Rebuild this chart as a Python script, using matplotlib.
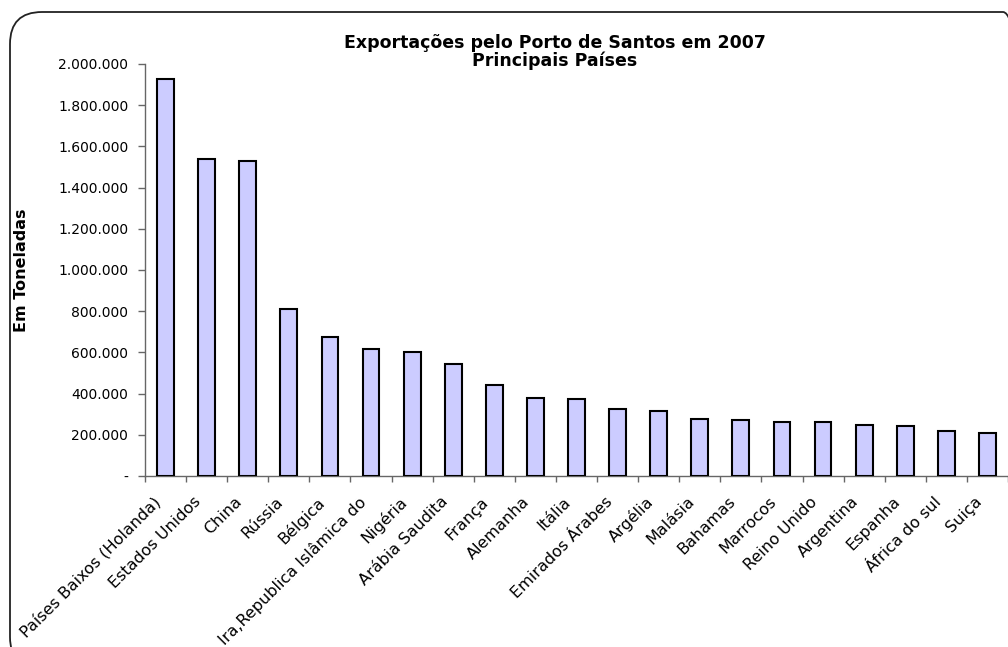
import matplotlib
matplotlib.use("Agg")
import matplotlib.pyplot as plt
from matplotlib.patches import FancyBboxPatch
from matplotlib.ticker import FuncFormatter, MultipleLocator, FixedLocator
import matplotlib.transforms as mtrans
import numpy as np

paises = ["Países Baixos (Holanda)", "Estados Unidos", "China", "Rússia", "Bélgica",
          "Ira,Republica Islâmica do", "Nigéria", "Arábia Saudita", "França", "Alemanha",
          "Itália", "Emirados Árabes", "Argélia", "Malásia", "Bahamas", "Marrocos",
          "Reino Unido", "Argentina", "Espanha", "África do sul", "Suiça"]
toneladas = [1927000, 1537000, 1529000, 812000, 673000, 615000, 603000, 544000,
             440000, 380000, 372000, 326000, 314000, 275000, 272000, 261000,
             261000, 246000, 243000, 217000, 207000]

plt.rcParams['font.family'] = ['DejaVu Sans']

W, H = 1008, 647
fig = plt.figure(figsize=(W / 100, H / 100), dpi=100)
ax = fig.add_axes([145 / W, (H - 476) / H, (1008 - 145) / W, 412 / H])

x = np.arange(len(paises))
ax.bar(x, toneladas, width=0.41, color='#CCCCFF', edgecolor='black', linewidth=1.5, zorder=3)

ax.set_xlim(-0.5, len(paises) - 0.5)
ax.set_ylim(0, 2000000)

ax.yaxis.set_major_locator(MultipleLocator(200000))
ax.yaxis.set_major_formatter(FuncFormatter(
    lambda v, p: '-' if v == 0 else f"{int(v):,}".replace(',', '.')))

# labels sit slightly left of each bar centre, as in the original chart
label_offset = 0.32
ax.set_xticks(x - label_offset)
ax.set_xticklabels(paises, rotation=45, ha='right', va='top', rotation_mode='anchor')
ax.xaxis.set_minor_locator(FixedLocator(np.arange(-0.5, len(paises), 1.0)))
ax.tick_params(axis='x', which='major', length=0, pad=13, labelsize=11.5)
ax.tick_params(axis='x', which='minor', length=4, width=1, color='#666666', direction='out')
ax.tick_params(axis='y', which='major', length=5, width=1, color='#666666', direction='out',
               labelsize=10, pad=7)

for s in ['top', 'right']:
    ax.spines[s].set_visible(False)
for s in ['left', 'bottom']:
    ax.spines[s].set_color('#666666')
    ax.spines[s].set_linewidth(1.0)

fig.text(22 / W, (H - 270) / H, 'Em Toneladas', rotation=90, ha='center', va='center',
         fontsize=11.5, fontweight='bold')

fig.text(555 / W, (H - 43) / H, 'Exportações pelo Porto de Santos em 2007',
         ha='center', va='center', fontsize=12.5, fontweight='bold')
fig.text(555 / W, (H - 61) / H, 'Principais Países',
         ha='center', va='center', fontsize=12.5, fontweight='bold')

border = FancyBboxPatch((10, -22), 1025, 657, boxstyle="round,pad=0,rounding_size=32",
                        transform=mtrans.IdentityTransform(), facecolor='none',
                        edgecolor='#222222', linewidth=1.3)
fig.patches.append(border)

fig.savefig('out.png', dpi=100)
